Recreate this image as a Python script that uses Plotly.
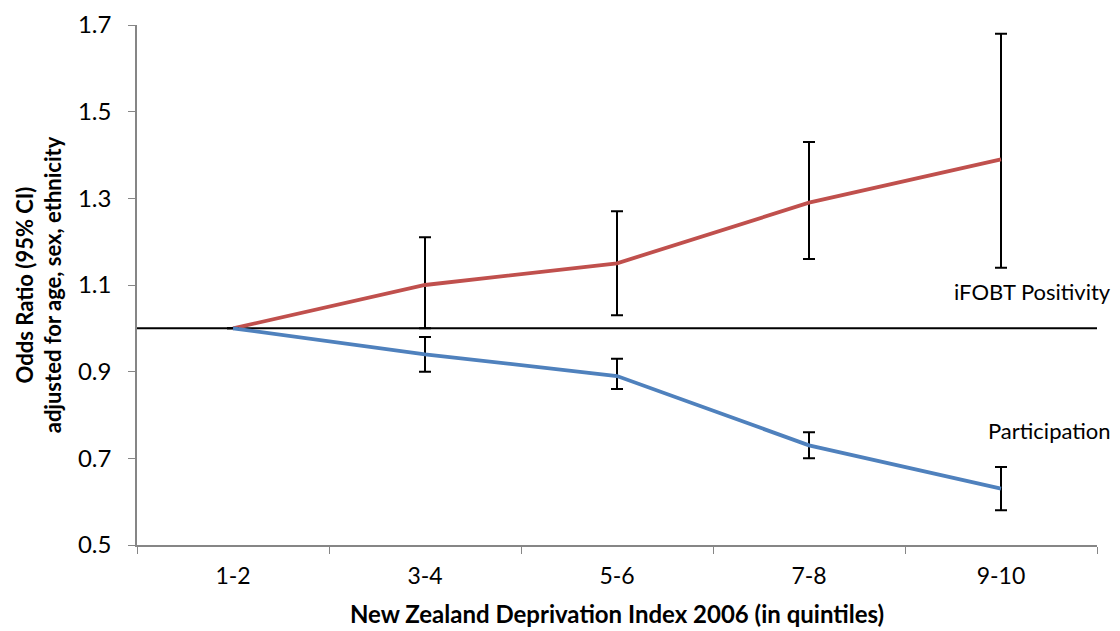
import plotly.graph_objects as go

categories = ["1-2", "3-4", "5-6", "7-8", "9-10"]
ifobt_or = [1.00, 1.10, 1.15, 1.29, 1.39]
ifobt_lo = [1.00, 1.00, 1.03, 1.16, 1.14]
ifobt_hi = [1.00, 1.21, 1.27, 1.43, 1.68]
part_or = [1.00, 0.94, 0.89, 0.73, 0.63]
part_lo = [1.00, 0.90, 0.86, 0.70, 0.58]
part_hi = [1.00, 0.98, 0.93, 0.76, 0.68]
y_ticks = [0.5, 0.7, 0.9, 1.1, 1.3, 1.5, 1.7]
reference_or = 1.0

FONT = "Lato, 'Open Sans', sans-serif"

def err(vals, lo, hi, show):
    return dict(
        type="data", symmetric=False,
        array=[h - v if s else 0 for v, h, s in zip(vals, hi, show)],
        arrayminus=[v - l if s else 0 for v, l, s in zip(vals, lo, show)],
        color="black", thickness=2, width=6,
    )

show = [False, True, True, True, True]

fig = go.Figure()
fig.add_trace(go.Scatter(
    x=categories, y=ifobt_or, mode="lines",
    line=dict(color="#C0504D", width=3.8),
    error_y=err(ifobt_or, ifobt_lo, ifobt_hi, show),
    showlegend=False, name="iFOBT Positivity",
))
fig.add_trace(go.Scatter(
    x=categories, y=part_or, mode="lines",
    line=dict(color="#4F81BD", width=3.8),
    error_y=err(part_or, part_lo, part_hi, show),
    showlegend=False, name="Participation",
))

fig.add_shape(type="line", xref="paper", yref="y", x0=0, x1=1,
              y0=reference_or, y1=reference_or,
              line=dict(color="black", width=2), layer="below")

fig.add_annotation(text="iFOBT Positivity", xref="paper", yref="y",
                   x=1.017, y=1.084, xanchor="right", yanchor="middle",
                   showarrow=False, font=dict(family=FONT, size=22, color="black"))
fig.add_annotation(text="Participation", xref="paper", yref="y",
                   x=1.017, y=0.765, xanchor="right", yanchor="middle",
                   showarrow=False, font=dict(family=FONT, size=22, color="black"))

fig.update_layout(
    width=1112, height=623,
    margin=dict(l=129, r=23, t=17, b=86),
    paper_bgcolor="white", plot_bgcolor="white",
    font=dict(family=FONT, size=20, color="black"),
    xaxis=dict(
        type="category", range=[-0.5, 4.5],
        tickson="boundaries", ticks="outside", ticklen=7, tickcolor="#868686",
        showline=True, linecolor="#868686", linewidth=1.5,
        showgrid=False, zeroline=False,
        tickfont=dict(family=FONT, size=23),
        ticklabelstandoff=10,
        title=dict(text="<b>New Zealand Deprivation Index 2006 (in quintiles)</b>",
                   font=dict(family=FONT, size=24), standoff=18),
        automargin=False,
    ),
    yaxis=dict(
        range=[0.5, 1.7], tickvals=y_ticks,
        ticktext=[f"{v:.1f}" for v in y_ticks],
        ticks="outside", ticklen=7, tickcolor="#868686",
        showline=True, linecolor="#868686", linewidth=1.5,
        showgrid=False, zeroline=False,
        tickfont=dict(family=FONT, size=24),
        ticklabelstandoff=12,
        title=dict(text="<b>Odds Ratio (95% CI)<br>adjusted for age, sex, ethnicity</b>",
                   font=dict(family=FONT, size=22), standoff=10),
        automargin=False,
    ),
)

fig.write_html("out.html")
